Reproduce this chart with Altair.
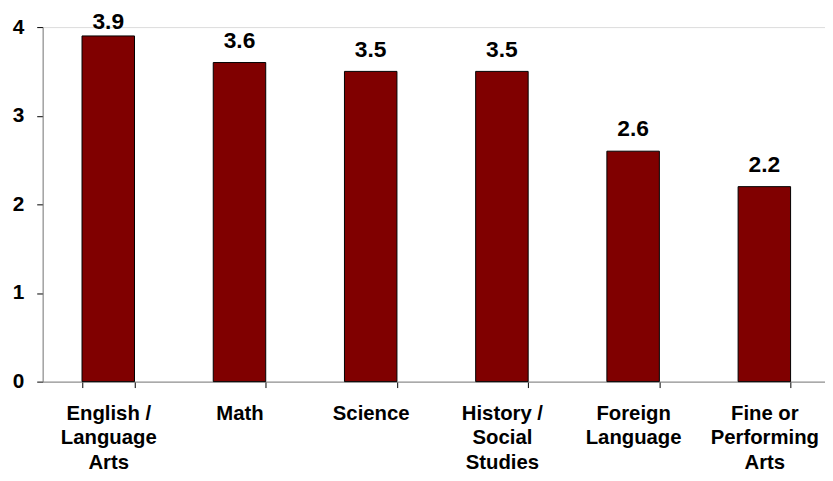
import altair as alt
import pandas as pd

categories = [
    "English /\nLanguage\nArts",
    "Math",
    "Science",
    "History /\nSocial\nStudies",
    "Foreign\nLanguage",
    "Fine or\nPerforming\nArts",
]
values = [3.9, 3.6, 3.5, 3.5, 2.6, 2.2]
labels = ["3.9", "3.6", "3.5", "3.5", "2.6", "2.2"]

df = pd.DataFrame({"cat": categories, "val": values, "lab": labels})

FONT = "Liberation Sans"

x_enc = alt.X(
    "cat:N",
    sort=categories,
    scale=alt.Scale(range=[0, 795], paddingInner=0.6, paddingOuter=0.3),
    axis=alt.Axis(
        title=None,
        labelAngle=0,
        labelExpr="split(datum.label, '\\n')",
        labelFont=FONT,
        labelFontSize=20.5,
        labelFontWeight="bold",
        labelColor="#000000",
        labelLineHeight=25,
        labelBaseline="top",
        labelPadding=16,
        tickBand="extent",
        tickSize=6,
        tickColor="#000000",
        domainColor="#808080",
        labelOverlap=False,
    ),
)

y_enc = alt.Y(
    "val:Q",
    scale=alt.Scale(domain=[0, 4], nice=False),
    axis=alt.Axis(
        title=None,
        values=[0, 1, 2, 3, 4],
        format="d",
        labelFont=FONT,
        labelFontSize=21,
        labelFontWeight="bold",
        labelColor="#000000",
        labelPadding=13,
        tickSize=6,
        tickColor="#000000",
        domainColor="#808080",
        grid=False,
    ),
)

bars = alt.Chart(df).mark_bar(color="#800000", stroke="#000000", strokeWidth=1).encode(
    x=x_enc, y=y_enc
)

# data labels are kept inside the chart area (as the source chart does for the tallest bar)
text = (
    alt.Chart(df)
    .transform_calculate(label_y="min(datum.val, 3.81)")
    .mark_text(
        font=FONT, fontSize=23, fontWeight="bold", color="#000000",
        baseline="alphabetic", dy=-15, align="center",
    )
    .encode(x=alt.X("cat:N", sort=categories), y="label_y:Q", text="lab:N")
)

chart = (
    alt.layer(bars, text)
    .properties(
        width=790,
        height=358,
        autosize=alt.AutoSizeParams(type="none"),
        padding={"left": 35, "top": 17, "right": 0, "bottom": 90},
    )
    .configure_view(stroke=None)
    .configure(background="white")
)

chart.save("out.html", embed_options={"renderer": "svg", "actions": False})
